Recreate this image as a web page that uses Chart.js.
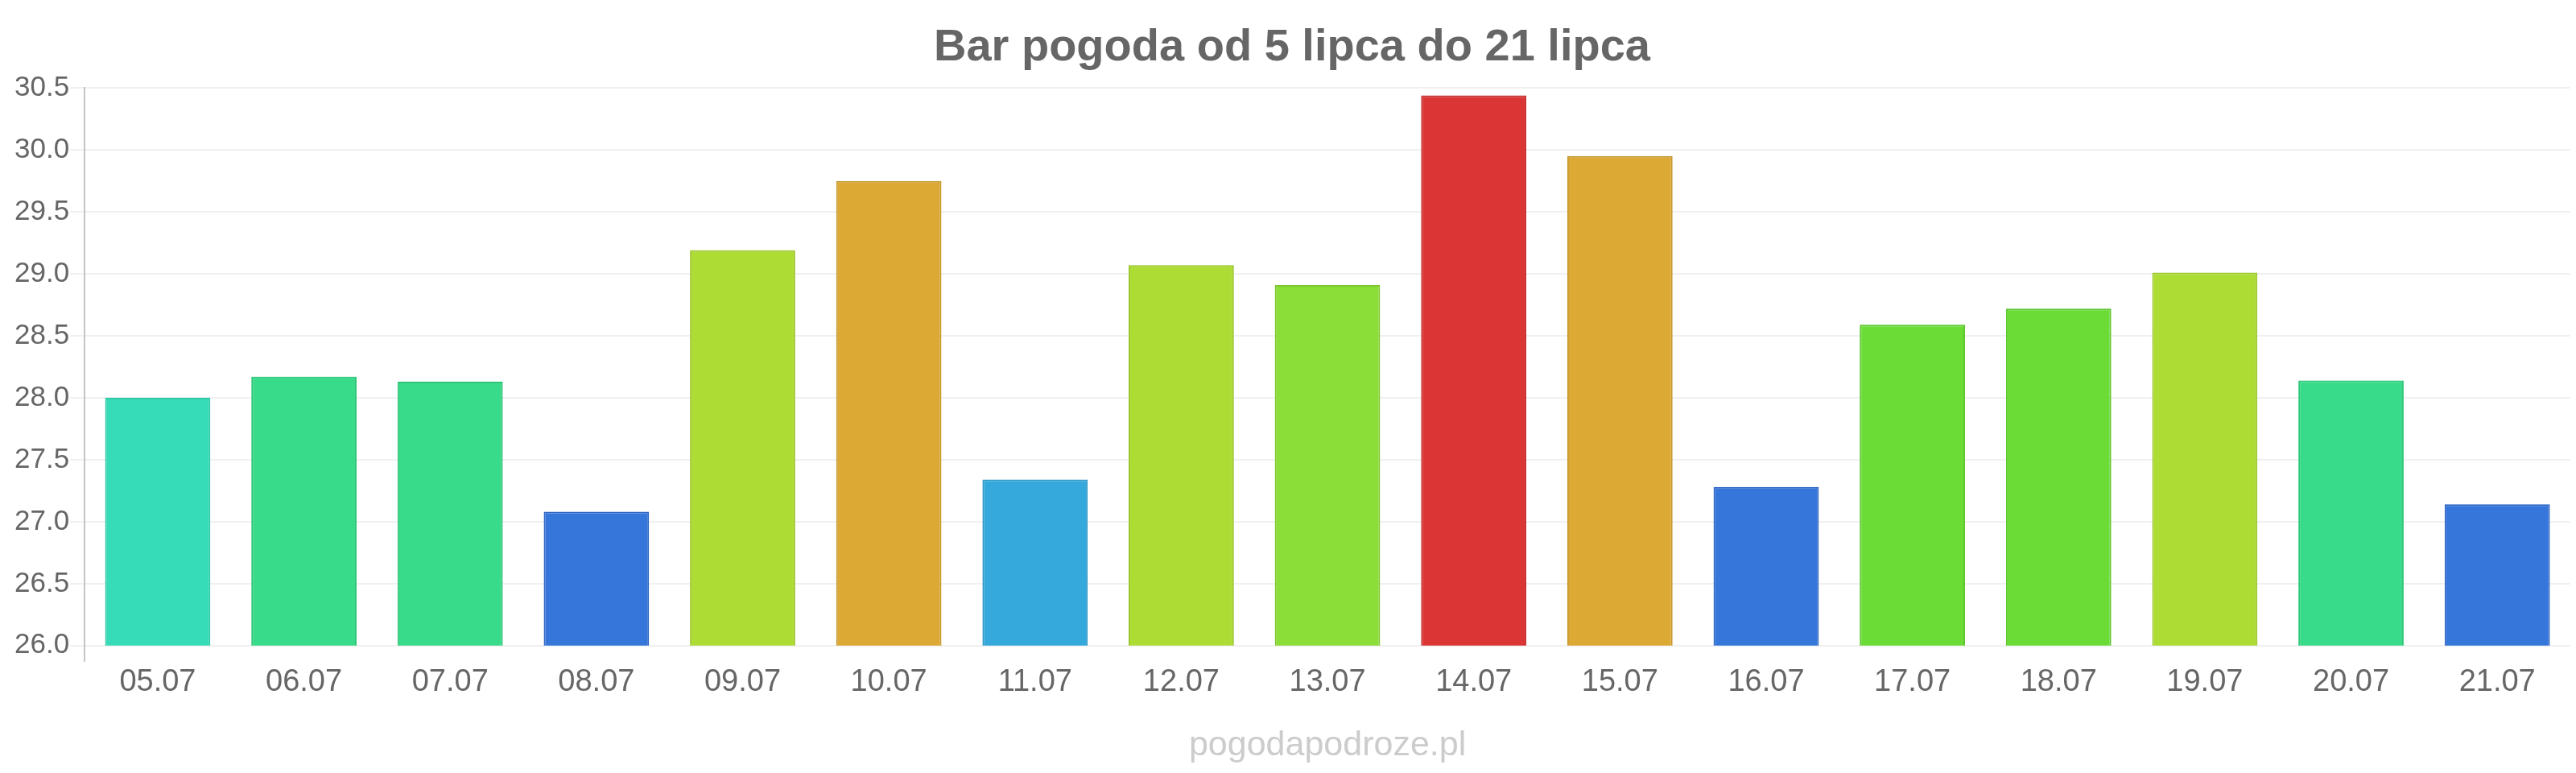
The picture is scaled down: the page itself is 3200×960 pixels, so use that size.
<!DOCTYPE html>
<html>
<head>
<meta charset="utf-8">
<script src="https://cdn.jsdelivr.net/npm/chart.js@4/dist/chart.umd.min.js"></script>
<style>
  html, body { margin: 0; padding: 0; background: #fff; }
  #wrap { width: 3200px; height: 960px; }
</style>
</head>
<body>
<div id="wrap"><canvas id="graph_area"></canvas></div>
<script>
// dane
var labels = ['05.07', '06.07', '07.07', '08.07', '09.07', '10.07', '11.07', '12.07', '13.07',
  '14.07', '15.07', '16.07', '17.07', '18.07', '19.07', '20.07', '21.07'];
var temps = [28.0, 28.17, 28.13, 27.08, 29.19, 29.75, 27.34, 29.07, 28.91,
  30.44, 29.95, 27.28, 28.59, 28.72, 29.01, 28.14, 27.14];
var yMin = 26.0, yMax = 30.5, yStep = 0.5;

// kolory slupkow
var fillColors = ['#36dcb8', '#37db89', '#37db89', '#3576db', '#addd35', '#dca935', '#35a9db', '#addd35', '#8bdd37',
  '#db3535', '#dca935', '#3576db', '#6bdc36', '#6bdc36', '#addd35', '#37db89', '#3576db'];
var borderColors = ['#2fc9a6', '#2fc678', '#2fc678', '#2f66c4', '#9cc82e', '#c8982f', '#2f98c5', '#9cc82e', '#7dc72f',
  '#c52f2f', '#c8982f', '#2f66c4', '#5ec72f', '#5ec72f', '#9cc82e', '#2fc678', '#2f66c4'];

var fontFamily = '"Liberation Sans", Arial, Helvetica, sans-serif';

document.addEventListener('DOMContentLoaded', function () {
  var ctx = document.getElementById('graph_area').getContext('2d');
  new Chart(ctx, {
    type: 'bar',
    data: {
      labels: labels,
      datasets: [{
        data: temps,
        backgroundColor: fillColors,
        borderColor: borderColors,
        borderWidth: 2,
        categoryPercentage: 0.8,
        barPercentage: 0.9
      }]
    },
    options: {
      responsive: true,
      maintainAspectRatio: false,
      animation: false,
      layout: { padding: { left: 17, right: 7, top: 0, bottom: 0 } },
      plugins: {
        legend: { display: false },
        tooltip: { enabled: false },
        title: {
          display: true,
          text: 'Bar pogoda od 5 lipca do 21 lipca',
          color: '#666',
          font: { family: fontFamily, size: 56, weight: 'bold' },
          padding: { top: 26, bottom: 16 }
        }
      },
      scales: {
        x: {
          grid: {
            display: true,
            drawOnChartArea: false,
            tickLength: 20,
            color: function (c) { return c.index === 0 ? '#c4c4c4' : 'rgba(0,0,0,0)'; },
            lineWidth: 2
          },
          border: { display: false },
          ticks: {
            color: '#666',
            padding: 3,
            font: { family: fontFamily, size: 38 }
          },
          // znak wodny pod osia
          title: {
            display: true,
            text: 'pogodapodroze.pl',
            color: '#ccc',
            font: { family: fontFamily, size: 43 },
            padding: { top: 27, bottom: 8 }
          }
        },
        y: {
          min: yMin,
          max: yMax,
          grid: { color: '#f0f0f0', lineWidth: 2, tickLength: 18 },
          border: { display: true, color: '#c4c4c4', width: 2 },
          ticks: {
            stepSize: yStep,
            color: '#666',
            padding: 1,
            font: { family: fontFamily, size: 35 },
            callback: function (v) { return Number(v).toFixed(1); }
          }
        }
      }
    }
  });
});
</script>
</body>
</html>
